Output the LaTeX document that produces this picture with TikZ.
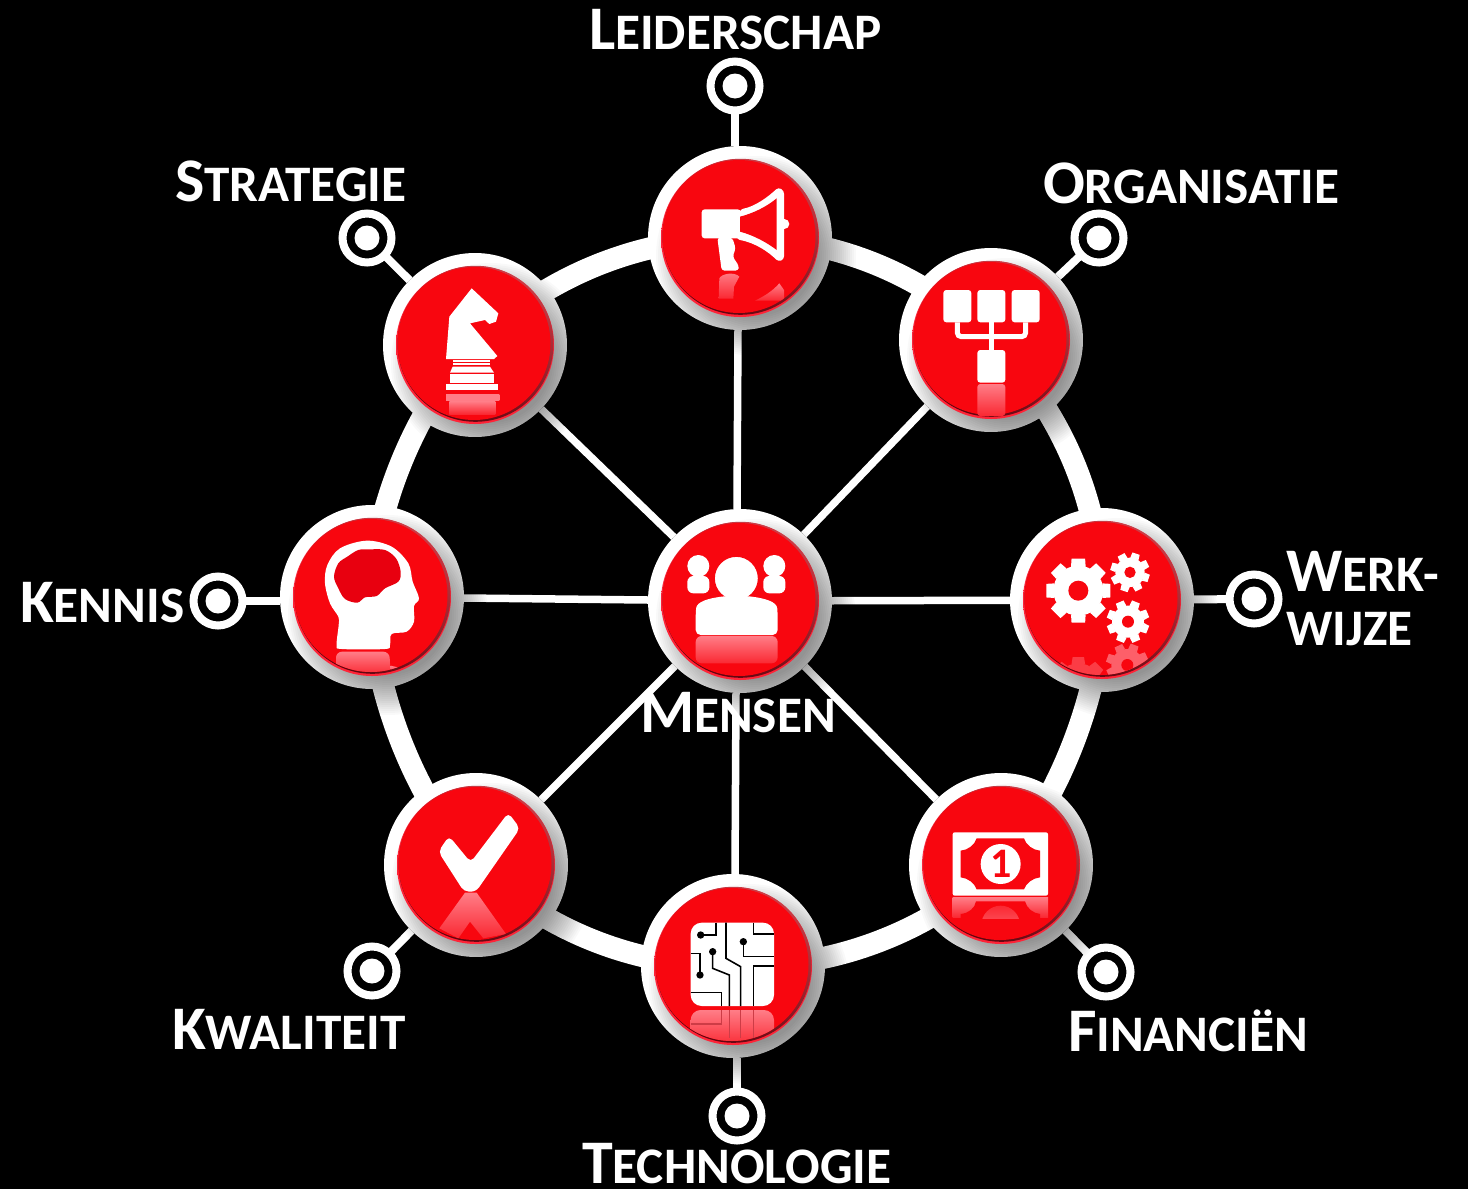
\documentclass[tikz,border=0pt]{standalone}
\usepackage{fontspec}
\setmainfont{Carlito}
\newfontfamily\labfont{Carlito Bold}
\definecolor{btn}{RGB}{248,6,15}
\definecolor{rimtop}{RGB}{205,60,70}
\definecolor{rimlow}{RGB}{95,5,15}
\definecolor{rimred}{RGB}{255,35,55}
\definecolor{refl}{RGB}{255,125,135}
\definecolor{reflend}{RGB}{250,40,50}
\definecolor{brain}{RGB}{232,0,15}
\newcommand\capstext[2]{{\fontsize{62}{62}\selectfont #1}{\fontsize{51.2}{51.2}\selectfont #2}}
\newcommand\castshadow[1]{\foreach \r in {60,62,...,100}{\fill[black,opacity=.024] ([shift={(16,18)}]#1.center) circle[radius=\r];}}
\newcommand\redface[1]{%
  \shade[top color=rimred,bottom color=rimred] (#1.center) circle[radius=79];
  \shade[top color=rimtop,bottom color=rimlow,shading angle=-25] ([shift={(0.5,-1.2)}]#1.center) circle[radius=78];
  \fill[btn] ([shift={(-1,-1.5)}]#1.center) circle[radius=76.5];}
\newcommand\facedot[1]{\fill[white] (#1) circle[radius=12.5];}
\newcommand\gearicon[8]{%
  \fill[#8] (#1,#2) circle[radius=#4];
  \foreach \i in {1,...,8}{\pgfmathsetmacro\a{#7+45*\i}
    \fill[#8] ([shift={(\a-17:#4)}]#1,#2) -- ([shift={(\a-#6:#3)}]#1,#2) -- ([shift={(\a+#6:#3)}]#1,#2) -- ([shift={(\a+17:#4)}]#1,#2) -- cycle;}
  \fill[btn] (#1,#2) circle[radius=#5];}
\tikzset{
  hub/.style={circle,fill=white,minimum size=184,inner sep=0,outer sep=0},
  target/.style={circle,draw=white,line width=8,fill=black,minimum size=49,inner sep=0,outer sep=0},
  rimline/.style={white,line width=22,bend left=22.5,looseness=.885},
  spoke/.style={white,line width=7.5},
  stub/.style={white,line width=8},
  lab/.style={text=white,anchor=base west,inner sep=0,outer sep=0,font=\labfont},
  crop/.style={shift={#1},scale=.33333},
  glow/.style={top color=refl,bottom color=reflend},
}
\begin{document}
\begin{tikzpicture}[x=1pt,y=-1pt]
\fill[black] (0,0) rectangle (1468,1189);
\useasboundingbox (0,0) rectangle (1468,1189);
% hubs
\node[hub] (top) at (740,238) {};
\node[hub] (org) at (991,340) {};
\node[hub] (wer) at (1102,600) {};
\node[hub] (fin) at (1001,865) {};
\node[hub] (tec) at (733,966) {};
\node[hub] (kwa) at (476,865) {};
\node[hub] (ken) at (372,597) {};
\node[hub] (str) at (475,345) {};
\node[hub] (men) at (740,601) {};
% targets
\node[target] (ttop) at (735,86) {};
\node[target] (torg) at (1099,238) {};
\node[target] (twer) at (1254,599) {};
\node[target] (tfin) at (1106,972) {};
\node[target] (ttec) at (737,1116) {};
\node[target] (tkwa) at (372,971) {};
\node[target] (tken) at (218,601) {};
\node[target] (tstr) at (367,238) {};
\foreach \t in {ttop,torg,twer,tfin,ttec,tkwa,tken,tstr}{\facedot{\t}}
% rim
\draw[rimline] (top.center) to (org.center);
\draw[rimline] (org.center) to (wer.center);
\draw[rimline,looseness=.76] (wer.center) to (fin.center);
\draw[rimline] (fin.center) to (tec.center);
\draw[rimline] (tec.center) to (kwa.center);
\draw[rimline,looseness=.78] (kwa.center) to (ken.center);
\draw[rimline,looseness=.78] (ken.center) to (str.center);
\draw[rimline] (str.center) to (top.center);
% spokes
\foreach \h in {org,wer,fin,kwa,ken,str}{\draw[spoke] (\h) -- (men);}
\draw[spoke] (top.south) ++(-2,0) -- ([xshift=-3]men.north);
\draw[spoke] (tec.north) ++(2,0) -- ([xshift=-4]men.south);
% stubs
\draw[stub] (ttop) -- (ttop |- top.north);
\draw[stub] (org) -- (torg);
\draw[stub] (wer) -- (twer);
\draw[stub] (fin) -- (tfin);
\draw[stub] (ttec) -- (ttec |- tec.south);
\draw[stub] (kwa) -- (tkwa);
\draw[stub] (tken) -- (tken -| ken.west);
\draw[stub] (str) -- (tstr);
% shadows and faces
\foreach \h in {top,org,wer,fin,tec,kwa,ken,str,men}{\castshadow{\h}}
\foreach \h in {top,org,wer,fin,tec,kwa,ken,str,men}{\redface{\h}}
% megaphone
\begin{scope}\clip ([shift={(-1,-1.5)}]top.center) circle[radius=76.5];
\begin{scope}[crop={(640,60)}]
\shade[glow] (236,716) -- (238,655) .. controls (245,640) and (285,635) .. (298,650) -- (282,680) -- (280,716) -- cycle;
\shade[glow] (345,722) .. controls (380,705) and (400,690) .. (418,670) -- (432,690) -- (432,722) -- cycle;
\end{scope}\end{scope}
\begin{scope}[crop={(640,60)}]
\fill[white,rounded corners=3] (185,448) rectangle (302,535);
\fill[white,rounded corners=3] (300,448) .. controls (345,440) and (385,410) .. (415,382) -- (432,392) -- (432,598) -- (415,605) .. controls (385,575) and (345,548) .. (290,538) -- cycle;
\fill[white] (433,492) circle[radius=15];
\fill[btn] (300,470) .. controls (340,460) and (380,440) .. (410,415) -- (410,570) .. controls (385,550) and (340,525) .. (300,515) -- cycle;
\fill[white,rounded corners=3] (232,533) -- (245,632) -- (295,632) -- (297,618) -- (278,590) -- (287,565) -- (277,533) -- cycle;
\end{scope}
% organisation
\begin{scope}[crop={(640,60)}]
\foreach \x in {910,1012,1115}{\fill[white,rounded corners=3] (\x,690) rectangle ++(84,97);}
\fill[white,rounded corners=3] (1012,870) rectangle (1096,968);
\draw[white,line width=5,rounded corners=4] (952,787) -- (952,830) -- (1157,830) -- (1157,787);
\draw[white,line width=5] (1054,787) -- (1054,870);
\shade[glow,rounded corners=3] (1012,972) rectangle (1096,1068);
\end{scope}
% knight
\begin{scope}[crop={(370,200)}]
\fill[white] (305,265) -- (385,340) -- (378,365) -- (358,372) -- (345,360) -- (300,370) -- (382,468) -- (372,477) -- (228,477) -- (238,350) -- cycle;
\fill[white] (250,480) rectangle (360,487);
\fill[white] (250,490) rectangle (360,496);
\fill[white] (248,500) -- (360,500) -- (372,518) -- (240,518) -- cycle;
\fill[white] (240,522) rectangle (372,548);
\fill[white] (228,552) rectangle (384,570);
\shade[top color=refl,bottom color=refl] (228,582) rectangle (388,600);
\shade[glow] (238,604) rectangle (376,642);
\end{scope}
% people
\begin{scope}[crop={(630,500)}]
\shade[glow,rounded corners=6] (197,408) -- (443,408) -- (443,490) -- (197,490) -- cycle;
\fill[white] (205,198) circle[radius=33];
\fill[white] (433,198) circle[radius=33];
\fill[white,rounded corners=6] (172,228) rectangle (238,280);
\fill[white,rounded corners=6] (400,228) rectangle (466,280);
\draw[btn,line width=3,fill=white] (319,235) circle[radius=69];
\fill[white,rounded corners=5] (197,405) -- (197,340) .. controls (200,305) and (235,295) .. (290,288) -- (350,288) .. controls (405,295) and (440,305) .. (443,340) -- (443,405) -- cycle;
\end{scope}
% gears
\begin{scope}\clip ([shift={(-1,-1.5)}]wer.center) circle[radius=76.5];
\begin{scope}[crop={(1000,500)}]
\gearicon{382}{495}{65}{48}{18}{11}{20}{refl!75!btn}
\gearicon{235}{560}{90}{70}{28}{11}{0}{refl!45!btn}
\end{scope}\end{scope}
\begin{scope}[crop={(1000,500)}]
\gearicon{235}{272}{98}{75}{30}{12}{0}{white}
\gearicon{390}{217}{60}{44}{17}{11}{18}{white}
\gearicon{384}{365}{65}{48}{18}{11}{22}{white}
\end{scope}
% money
\begin{scope}\clip ([shift={(-1,-1.5)}]fin.center) circle[radius=76.5];
\begin{scope}[crop={(900,770)}]
\shade[glow] (158,382) rectangle (444,442);
\fill[btn] (228,394) -- (375,394) .. controls (380,415) and (400,430) .. (420,432) -- (420,445) -- (182,445) -- (182,432) .. controls (205,430) and (225,415) .. (228,394) -- cycle;
\begin{scope}\clip (240,405) rectangle (365,445);
\shade[top color=reflend,bottom color=refl] (302,465) circle[radius=58];
\end{scope}
\end{scope}\end{scope}
\begin{scope}[crop={(900,770)}]
\fill[white,rounded corners=2] (158,187) rectangle (444,377);
\fill[btn] (230,205) -- (372,205) .. controls (378,225) and (398,240) .. (420,242) -- (420,322) .. controls (398,324) and (378,340) .. (372,358) -- (230,358) .. controls (224,340) and (204,324) .. (182,322) -- (182,242) .. controls (204,240) and (224,225) .. (230,205) -- cycle;
\fill[white] (302,282) circle[radius=60];
\node[text=btn,inner sep=0,font=\labfont\fontsize{42}{42}\selectfont] (onecoin) at (302,281) {1};
\end{scope}
% chip
\begin{scope}\clip ([shift={(-1,-1.5)}]tec.center) circle[radius=76.5];
\begin{scope}[crop={(640,870)}]
\shade[glow,rounded corners=10] (152,420) rectangle (402,530);
\draw[rimtop,line width=1.6] (152,462) -- (245,462) -- (245,420);
\foreach \x in {268,302,340}{\draw[rimtop,line width=1.6] (\x,420) -- (\x,505);}
\end{scope}\end{scope}
\begin{scope}[crop={(640,870)}]
\fill[white,rounded corners=11] (152,158) rectangle (402,408);
\begin{scope}[black,line width=1.6]
\draw (228,158) -- (228,195) -- (182,195);
\draw (258,158) -- (258,265) -- (302,290) -- (302,408);
\draw (310,215) -- (310,260) -- (402,260);
\draw (340,408) -- (340,288) -- (402,288);
\draw (340,158) -- (340,192) -- (402,192);
\draw (152,250) -- (180,250) -- (180,315);
\draw (218,245) -- (218,295) -- (268,315) -- (268,408);
\draw (152,368) -- (245,368) -- (245,408);
\end{scope}
\foreach \p in {(182,195),(310,215),(218,245),(180,315)}{\fill[black] \p circle[radius=11];}
\end{scope}
% check
\begin{scope}\clip ([shift={(-1,-1.5)}]kwa.center) circle[radius=76.5];
\begin{scope}[crop={(380,770)}]
\shade[glow] (255,368) -- (290,368) -- (378,492) -- (310,505) -- (270,455) -- (235,505) -- (178,475) -- cycle;
\end{scope}\end{scope}
\begin{scope}[crop={(380,770)}]
\fill[white,rounded corners=5] (207,198) -- (175,245) -- (252,365) -- (288,365) -- (420,175) -- (385,128) -- (272,277) -- cycle;
\end{scope}
% head
\begin{scope}\clip ([shift={(-1,-1.5)}]ken.center) circle[radius=76.5];
\begin{scope}[crop={(270,500)}]
\shade[glow,rounded corners=6] (198,455) -- (358,455) -- (362,525) -- (198,525) -- cycle;
\shade[glow] (362,497) -- (420,510) -- (420,530) -- (362,530) -- cycle;
\end{scope}\end{scope}
\begin{scope}[crop={(270,500)}]
\fill[white] plot[smooth cycle,tension=.55] coordinates {(200,435) (206,375) (205,350) (180,310) (165,250) (172,195) (210,145) (290,122) (365,140) (415,190) (428,245) (447,295) (432,318) (432,365) (410,395) (365,402) (360,435) (345,447) (215,447)};
\fill[brain] plot[smooth cycle,tension=.55] coordinates {(192,230) (205,190) (232,170) (265,150) (300,148) (345,150) (378,175) (392,215) (385,245) (345,265) (320,288) (285,292) (262,308) (225,297) (205,265)};
\end{scope}
% labels
\node[lab] (lleid) at (589,49) {\capstext{L}{EIDERSCHAP}};
\node[lab] (lstra) at (175,201) {\capstext{S}{TRATEGIE}};
\node[lab] (lorga) at (1043,203) {\capstext{O}{RGANISATIE}};
\node[lab] (lkenn) at (20,622) {\capstext{K}{ENNIS}};
\node[lab] (lwerk) at (1286,591) {\capstext{W}{ERK-}};
\node[lab] (lwijz) at (1286,645) {\capstext{}{WIJZE}};
\node[lab] (lmens) at (640,732) {\capstext{M}{ENSEN}};
\node[lab] (lkwal) at (172,1049) {\capstext{K}{WALITEIT}};
\node[lab] (lfina) at (1068,1051) {\capstext{F}{INANCIËN}};
\node[lab] (ltech) at (582,1183) {\capstext{T}{ECHNOLOGIE}};
\end{tikzpicture}
\end{document}
